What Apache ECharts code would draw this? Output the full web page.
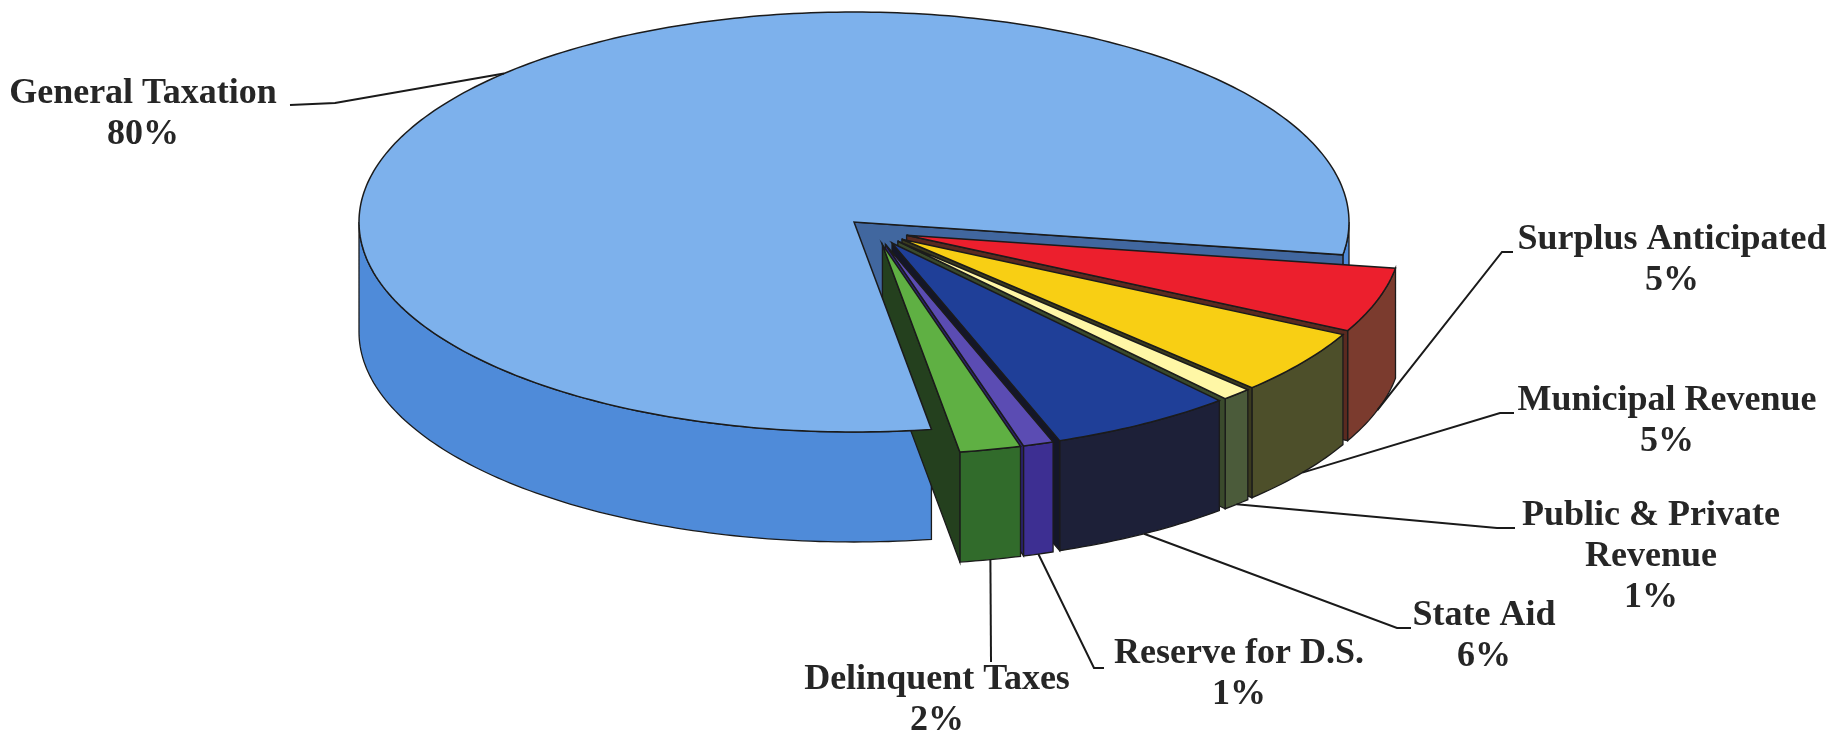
<!DOCTYPE html>
<html>
<head>
<meta charset="utf-8">
<script src="https://cdn.jsdelivr.net/npm/echarts@6/dist/echarts.min.js"></script>
<style>
  html, body { margin: 0; padding: 0; background: #fff; }
  #chart { width: 1848px; height: 735px; }
</style>
</head>
<body>
<div id="chart"></div>
<script>
// data
const categories = [
  "General Taxation",
  "Surplus Anticipated",
  "Municipal Revenue",
  "Public & Private\nRevenue",
  "State Aid",
  "Reserve for D.S.",
  "Delinquent Taxes"
];
const values = [80, 5, 5, 1, 6, 1, 2];

// colours per slice: top face, outer wall, cut face
const topColors  = ["#7db1ec", "#ec1f2d", "#f8cf14", "#fff7a6", "#1f3f98", "#5b4cb3", "#5fb043"];
const wallColors = ["#4f8bd9", "#7b3b2e", "#4d4f2a", "#4b5b3a", "#1d2038", "#3d2f92", "#316b2b"];
const cutColors  = ["#41679f", "#5a2a20", "#3a3a1e", "#3a4a2c", "#141628", "#2c2170", "#24401e"];

// label layout: centre of first text line, then leader knee and stub end
const labelPos = [[143, 94], [1672, 240], [1667, 401], [1651, 516], [1484, 616], [1239, 654], [937, 680]];
const leaderKnee = [
  [[335, 103], [290, 105]],
  [[1502, 252], [1513, 252]],
  [[1500, 413], [1514, 413]],
  [[1497, 528], [1515, 528]],
  [[1397, 628], [1411, 628]],
  [[1094, 668], [1104, 668]],
  [[991, 662], [991, 662]]
];

// pie geometry (pixels)
const cx = 854, cy = 222, rx = 495, ry = 210, depth = 110;
const startAngle = 81;        // parametric angle, clockwise on screen
const explodeGroup = 30, explodeOwn = 33;
const lineGap = 41;

const total = values.reduce((a, b) => a + b, 0);

function renderItem(params, api) {
  const i = params.dataIndex;
  let a0 = startAngle;
  for (let k = 0; k < i; k++) a0 += values[k] / total * 360;
  const a1 = a0 + api.value(0) / total * 360;
  const mid = (a0 + a1) / 2;
  const rad = Math.PI / 180;
  const kk = ry / rx;

  let ox = 0, oy = 0;
  if (i > 0) {
    ox = explodeGroup * Math.cos(45 * rad) + explodeOwn * Math.cos(mid * rad);
    oy = (explodeGroup * Math.sin(45 * rad) + explodeOwn * Math.sin(mid * rad)) * kk;
  }
  const P = (t, r, z) => [cx + ox + rx * r * Math.cos(t * rad), cy + oy + ry * r * Math.sin(t * rad) + z];
  const arc = (s, e, z) => {
    const n = Math.max(2, Math.ceil(Math.abs(e - s)));
    const pts = [];
    for (let j = 0; j <= n; j++) pts.push(P(s + (e - s) * j / n, 1, z));
    return pts;
  };

  const children = [];
  const edge = "#1b1b1b";

  // outer wall, front half only
  for (let k = Math.floor(a0 / 360) - 1; k <= Math.floor(a1 / 360); k++) {
    const s = Math.max(a0, 360 * k), e = Math.min(a1, 360 * k + 180);
    if (s < e) {
      children.push({
        type: "polygon", z2: i * 10,
        shape: { points: arc(s, e, 0).concat(arc(e, s, depth)) },
        style: { fill: wallColors[i], stroke: edge, lineWidth: 1.3 }
      });
    }
  }
  // cut faces facing the viewer
  const C0 = P(0, 0, 0), C1 = P(0, 0, depth);
  if (Math.cos(a1 * rad) > 0) {
    children.push({
      type: "polygon", z2: i * 10 + 1,
      shape: { points: [C0, P(a1, 1, 0), P(a1, 1, depth), C1] },
      style: { fill: cutColors[i], stroke: edge, lineWidth: 1.3 }
    });
  }
  if (Math.cos(a0 * rad) < 0) {
    children.push({
      type: "polygon", z2: i * 10 + 1,
      shape: { points: [C0, P(a0, 1, 0), P(a0, 1, depth), C1] },
      style: { fill: cutColors[i], stroke: edge, lineWidth: 1.3 }
    });
  }
  // top face
  children.push({
    type: "polygon", z2: 200,
    shape: { points: [C0].concat(arc(a0, a1, 0)) },
    style: { fill: topColors[i], stroke: edge, lineWidth: 1.5 }
  });

  // leader line
  const front = Math.sin(mid * rad) > 0;
  const anchor = P(mid, 1, front ? depth : 0);
  children.push({
    type: "polyline", z2: 300,
    shape: { points: [anchor, leaderKnee[i][0], leaderKnee[i][1]] },
    style: { stroke: "#1a1a1a", lineWidth: 2, fill: null }
  });

  // label text
  const lines = categories[i].split("\n").concat([api.value(0) + "%"]);
  lines.forEach((t, j) => {
    children.push({
      type: "text", z2: 300,
      style: {
        text: t,
        x: labelPos[i][0],
        y: labelPos[i][1] + j * lineGap,
        font: 'bold 36px "Liberation Serif", "Times New Roman", serif',
        fill: "#262626",
        align: "center",
        verticalAlign: "middle",
        textAlign: "center",
        textVerticalAlign: "middle"
      }
    });
  });

  return { type: "group", children: children };
}

const chart = echarts.init(document.getElementById("chart"));
chart.setOption({
  backgroundColor: "#ffffff",
  animation: false,
  series: [{
    type: "custom",
    coordinateSystem: "none",
    silent: true,
    renderItem: renderItem,
    data: values
  }]
});
</script>
</body>
</html>
